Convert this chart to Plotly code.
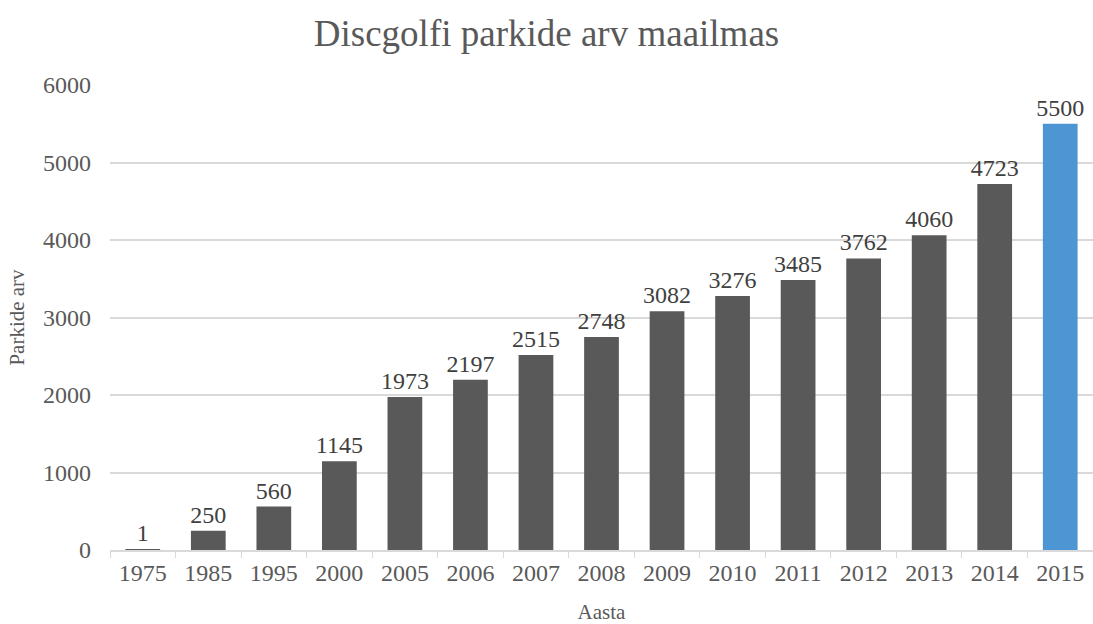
import plotly.graph_objects as go

years = ["1975", "1985", "1995", "2000", "2005", "2006", "2007", "2008", "2009",
         "2010", "2011", "2012", "2013", "2014", "2015"]
parks = [1, 250, 560, 1145, 1973, 2197, 2515, 2748, 3082, 3276, 3485, 3762, 4060, 4723, 5500]

gray = "#595959"
blue = "#4E96D3"
colors = [gray] * (len(years) - 1) + [blue]

font = "Liberation Serif, Times New Roman, serif"
txt = "#595959"

fig = go.Figure(go.Bar(
    x=years, y=parks, marker=dict(color=colors, line=dict(width=0)),
    text=[str(v) for v in parks], textposition="outside",
    textfont=dict(family=font, size=24, color="#404040"),
    constraintext="none",
    cliponaxis=False,
))

fig.update_layout(
    width=1093, height=624,
    margin=dict(l=110, r=0, t=85, b=74),
    paper_bgcolor="white", plot_bgcolor="white",
    bargap=0.47,
    showlegend=False,
    title=dict(text="Discgolfi parkide arv maailmas", x=0.5, xref="container", xanchor="center",
               y=0.947, yanchor="middle",
               font=dict(family=font, size=37, color=txt)),
    font=dict(family=font, color=txt),
)
fig.update_xaxes(
    type="category", tickson="boundaries", ticks="outside", ticklen=6, tickcolor="#d9d9d9",
    showline=True, linecolor="#d9d9d9", linewidth=1.5,
    tickfont=dict(family=font, size=24, color=txt),
    title=dict(text="Aasta", font=dict(family=font, size=21, color=txt), standoff=20),
)
fig.update_yaxes(
    range=[0, 6000], dtick=1000, showgrid=True, gridcolor="#d9d9d9", gridwidth=1.5,
    zeroline=False, showline=False,
    tickfont=dict(family=font, size=24, color=txt), ticklabelstandoff=18,
    title=dict(text="Parkide arv", font=dict(family=font, size=21, color=txt), standoff=12),
)

fig.write_html("out.html")
